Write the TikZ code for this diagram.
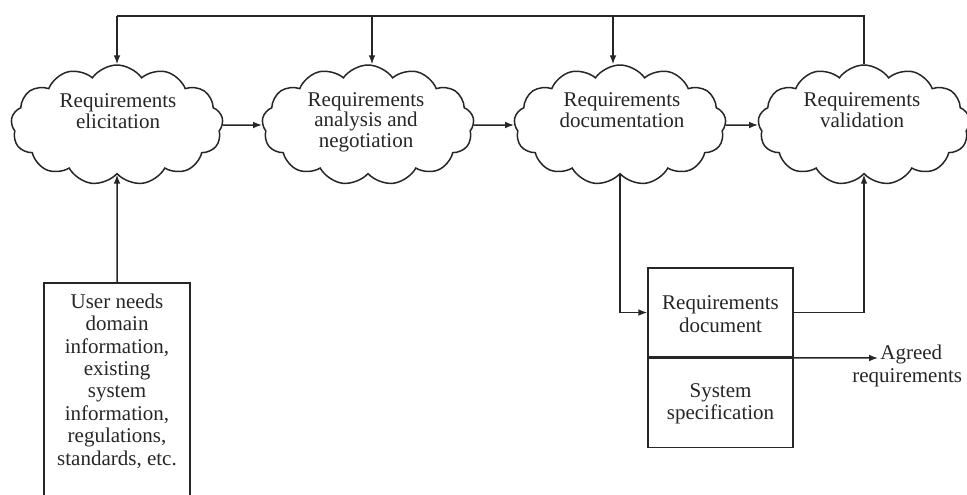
\documentclass[tikz,border=0pt]{standalone}
\usepackage{fontspec}
\setmainfont{Liberation Serif}
\usetikzlibrary{shapes.symbols,arrows.meta}

\tikzset{
  flow/.style={line width=0.75pt, draw=black!85},
  arr/.style={flow, -{Latex[length=4.5pt,width=3.4pt]}},
  activity/.style={cloud, draw=black!85, line width=0.75pt, cloud puffs=13,
    cloud puff arc=110, cloud ignores aspect, minimum width=106pt,
    minimum height=60pt, inner sep=0pt},
  cloudtext/.style={align=center, font=\fontsize{10.5}{10.2}\selectfont, text=black!85},
  boxtext/.style={align=center, font=\fontsize{10.5}{11.2}\selectfont, text=black!85},
  docbox/.style={draw=black!85, line width=0.75pt, minimum width=72.5pt,
    minimum height=44.5pt, inner sep=0pt},
}

\begin{document}
\begin{tikzpicture}[x=0.5pt, y=-0.5pt]
\useasboundingbox (0,0) rectangle (967,494);

% process activities
\node[activity] (c1) at (117,125) {};
\node[activity] (c2) at (368,125) {};
\node[activity] (c3) at (620,125) {};
\node[activity] (c4) at (864,125) {};

\node[cloudtext] (l1) at (118,111) {Requirements\\elicitation};
\node[cloudtext] (l2) at (366,122) {Requirements\\analysis and\\negotiation};
\node[cloudtext] (l3) at (622,110) {Requirements\\documentation};
\node[cloudtext] (l4) at (862,110) {Requirements\\validation};

% forward flow between activities
\draw[arr] (c1.east) -- (c2.west);
\draw[arr] (c2.east) -- (c3.west);
\draw[arr] (c3.east) -- (c4.west);

% feedback bus along the top
\coordinate (t1) at (117,16);
\coordinate (t2) at (372,16);
\coordinate (t3) at (613,16);
\coordinate (t4) at (864,16);
\draw[flow] (c4.north) -- (t4) -- (t1);
\draw[arr] (t1) -- (c1.north);
\draw[arr] (t2) -- (t2 |- c2.north);
\draw[arr] (t3) -- (t3 |- c3.north);

% inputs
\node[draw=black!85, line width=0.75pt, minimum width=73pt, minimum height=107.5pt,
      anchor=north, inner sep=0pt] (user) at (117,282) {};
\node[boxtext] (usertext) at (117,381) {User needs\\domain\\information,\\existing\\system\\information,\\regulations,\\standards, etc.};
\draw[arr] (user.north) -- (c1.south);

% outputs
\node[docbox] (reqdoc) at (720.5,312.5) {};
\node[docbox, anchor=north] (sysspec) at (reqdoc.south) {};
\node[boxtext] (reqdoctext) at (720.5,314) {Requirements\\document};
\node[boxtext] (sysspectext) at (720.5,404) {System\\specification};

\draw[arr] (c3.south) |- (reqdoc.west);
\draw[arr] (reqdoc.east) -| (c4.south);

\coordinate (agtip) at (878,358);
\node[boxtext, align=left, anchor=west, inner sep=0pt] (agreed) at (852,366)
  {\hspace*{14pt}Agreed\\requirements};
\draw[arr] (reqdoc.south east) -- (agtip);
\end{tikzpicture}
\end{document}
